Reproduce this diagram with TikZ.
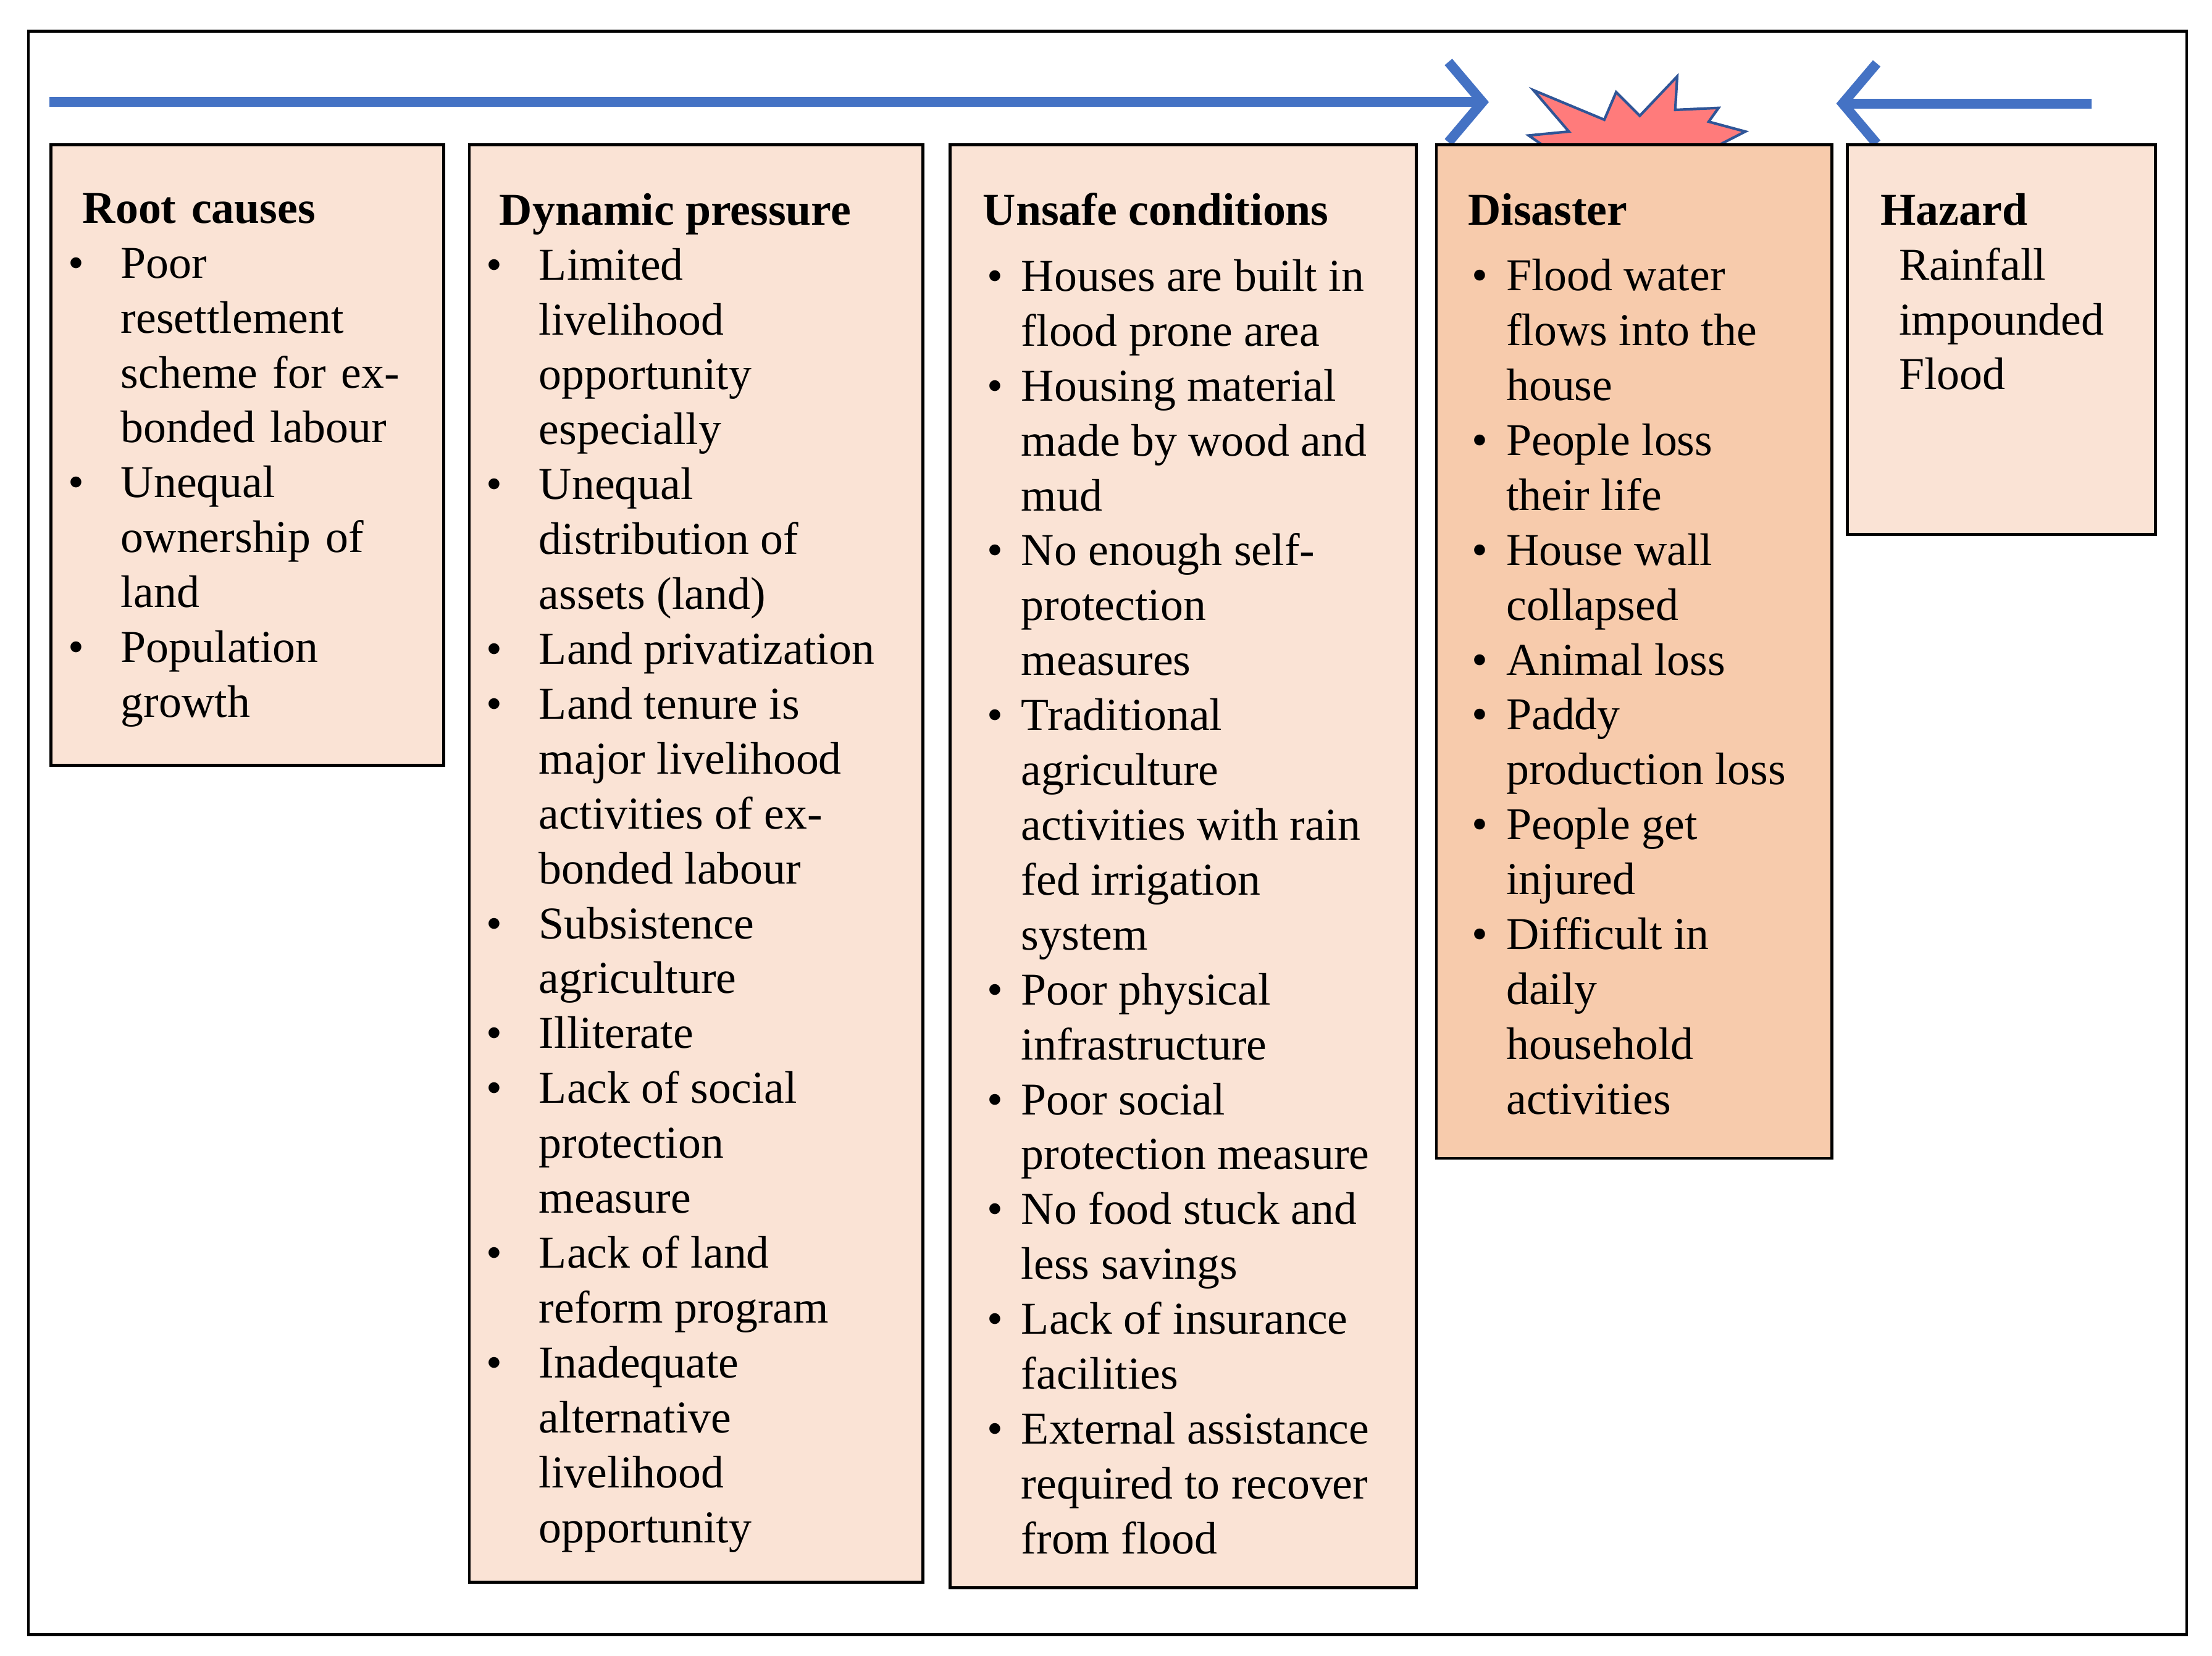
\documentclass[tikz,border=0pt]{standalone}
\usepackage{fontspec}
\setmainfont{Liberation Serif}
\usepackage{enumitem}
\usetikzlibrary{arrows.meta}
\definecolor{lightf}{HTML}{FAE3D5}
\definecolor{darkf}{HTML}{F7CBAC}
\definecolor{arrblue}{HTML}{4472C4}
\definecolor{starf}{HTML}{FF7B7B}
\definecolor{stard}{HTML}{2F5597}
\begin{document}
\begin{tikzpicture}[x=0.02296cm,y=-0.02296cm,
  box/.style={draw=black,line width=1.4pt,fill=lightf},
  txt/.style={anchor=north west,inner sep=0pt,font=\fontsize{21}{25.3}\selectfont},
  flow/.style={draw=arrblue,line width=0.16cm,-{Straight Barb[length=0.55cm,width=1.3cm,line width=0.16cm]}}]
\useasboundingbox (0,0) rectangle (1560,1168);
\draw[line width=1.2pt] (20,22) rectangle (1542,1153);
\coordinate (a1) at (35,72); \coordinate (a2) at (1050,72);
\coordinate (b1) at (1475,73); \coordinate (b2) at (1295,73);
\draw[flow] (a1) -- (a2);
\draw[flow] (b1) -- (b2);
\begin{scope}[shift={(1045.3,26.1)},scale=0.2778]
\draw[fill=starf,draw=stard,line width=1.2pt] (130,135)--(310,210)--(340,140)--(400,200)--(495,100)--(490,185)--(600,180)--(575,215)--(668,240)--(580,285)--(683,328)--(560,340)--(590,418)--(490,345)--(465,445)--(400,355)--(343,478)--(325,370)--(245,405)--(270,345)--(123,355)--(190,300)--(118,250)--(220,240)--cycle;
\end{scope}
\draw[box] (36,102) rectangle (313,540);
\draw[box] (331,102) rectangle (651,1116);
\draw[box] (670,102) rectangle (999,1120);
\draw[box,fill=darkf] (1013,102) rectangle (1292,817);
\draw[box] (1303,102) rectangle (1520,377);
\node[txt,text width=250\pgflinewidth] (root) at (58,136) {\begin{minipage}[t]{6cm}\textbf{Root causes}
\begin{itemize}[leftmargin=0.62cm,labelsep=0.6cm,itemsep=0pt,topsep=0pt,parsep=0pt]
\item Poor\newline resettlement\newline scheme for ex-\newline bonded labour
\item Unequal\newline ownership of\newline land
\item Population\newline growth
\end{itemize}\end{minipage}};
\node[txt] (dyn) at (352,136) {\begin{minipage}[t]{7cm}\textbf{Dynamic pressure}
\begin{itemize}[leftmargin=0.64cm,labelsep=0.6cm,itemsep=0pt,topsep=0pt,parsep=0pt]
\item Limited\newline livelihood\newline opportunity\newline especially
\item Unequal\newline distribution of\newline assets (land)
\item Land privatization
\item Land tenure is\newline major livelihood\newline activities of ex-\newline bonded labour
\item Subsistence\newline agriculture
\item Illiterate
\item Lack of social\newline protection\newline measure
\item Lack of land\newline reform program
\item Inadequate\newline alternative\newline livelihood\newline opportunity
\end{itemize}\end{minipage}};
\node[txt] (uns) at (693,136) {\begin{minipage}[t]{7.5cm}\textbf{Unsafe conditions}\par\vspace{3pt}
\begin{itemize}[leftmargin=0.62cm,labelsep=0.3cm,itemsep=0pt,topsep=0pt,parsep=0pt]
\item Houses are built in\newline flood prone area
\item Housing material\newline made by wood and\newline mud
\item No enough self-\newline protection\newline measures
\item Traditional\newline agriculture\newline activities with rain\newline fed irrigation\newline system
\item Poor physical\newline infrastructure
\item Poor social\newline protection measure
\item No food stuck and\newline less savings
\item Lack of insurance\newline facilities
\item External assistance\newline required to recover\newline from flood
\end{itemize}\end{minipage}};
\node[txt] (dis) at (1035,136) {\begin{minipage}[t]{6cm}\textbf{Disaster}\par\vspace{3pt}
\begin{itemize}[leftmargin=0.62cm,labelsep=0.3cm,itemsep=0pt,topsep=0pt,parsep=0pt]
\item Flood water\newline flows into the\newline house
\item People loss\newline their life
\item House wall\newline collapsed
\item Animal loss
\item Paddy\newline production loss
\item People get\newline injured
\item Difficult in\newline daily\newline household\newline activities
\end{itemize}\end{minipage}};
\node[txt] (haz) at (1326,136) {\begin{minipage}[t]{5cm}\textbf{Hazard}\par
\hspace*{0.3cm}Rainfall\par\hspace*{0.3cm}impounded\par\hspace*{0.3cm}Flood\end{minipage}};
\end{tikzpicture}
\end{document}
